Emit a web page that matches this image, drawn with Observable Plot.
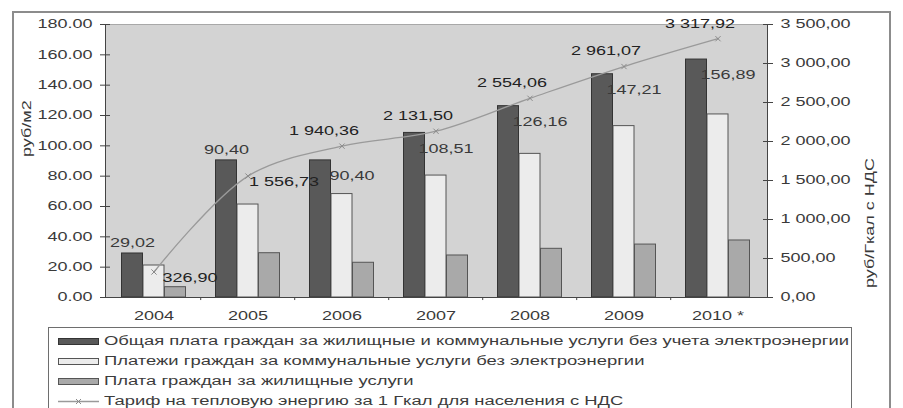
<!DOCTYPE html>
<html>
<head>
<meta charset="utf-8">
<script src="https://cdn.jsdelivr.net/npm/d3@7"></script>
<script src="https://cdn.jsdelivr.net/npm/@observablehq/plot@0.6"></script>
<style>
  html, body { margin: 0; padding: 0; background: #fff; }
  body { width: 903px; height: 408px; position: relative; overflow: hidden; font-family: "Liberation Sans", Arial, sans-serif; }
  #frame { position: absolute; left: 12px; top: 11px; width: 875px; height: 430px; border: 2px solid #8c8c8c; }
  #chart { position: absolute; left: 0; top: 0; }
  #legend { position: absolute; left: 48px; top: 327px; width: 802px; height: 90px; border: 1px solid #6e6e6e; background: #fff; }
  .row { position: absolute; left: 9px; height: 20px; display: flex; align-items: center; white-space: nowrap; }
  .sw { width: 39px; height: 5px; border: 1px solid #555; margin-right: 5px; flex: none; }
  .lbl { display: inline-block; font-size: 12.5px; color: #3c3c3c; transform-origin: left center; }
</style>
</head>
<body>
<div id="frame"></div>
<div id="chart"></div>
<div id="legend"></div>
<script>
// ---- data ----
const years = ["2004", "2005", "2006", "2007", "2008", "2009", "2010"];
const xLabels = ["2004", "2005", "2006", "2007", "2008", "2009", "2010 *"];
const totalPay = [29.02, 90.40, 90.40, 108.51, 126.16, 147.21, 156.89];
const utilityPay = [21.1, 61.3, 68.2, 80.4, 94.7, 113.0, 120.7];
const housingPay = [6.8, 29.2, 22.9, 27.7, 32.1, 34.9, 37.6];
const heatTariff = [326.90, 1556.73, 1940.36, 2131.50, 2554.06, 2961.07, 3317.92];
const leftTicks = [0, 20, 40, 60, 80, 100, 120, 140, 160, 180];
const rightTicks = [0, 500, 1000, 1500, 2000, 2500, 3000, 3500];
const seriesNames = [
  "Общая плата граждан за жилищные и коммунальные услуги без учета электроэнергии",
  "Платежи граждан за коммунальные услуги без электроэнергии",
  "Плата граждан за жилищные услуги",
  "Тариф на тепловую энергию за 1 Гкал для населения с НДС"
];
const leftLabel = "руб/м2";
const rightLabel = "руб/Гкал с НДС";

// ---- derived table ----
const leftMax = 180, rightMax = 3500;
const k = leftMax / rightMax;
const rows = years.map((y, i) => ({
  year: y, total: totalPay[i], utility: utilityPay[i], housing: housingPay[i], tariff: heatTariff[i]
}));
// where the tariff point sits below the top of the total bar, labels go the other way round
const lowLine = d => d.tariff * k < d.total;

const fmtLeft = d => d3.format(".2f")(d);
const fmtRu = d => d3.format(",.2f")(d).replace(/,/g, " ").replace(".", ",");
const fmtBar = d => d3.format(".2f")(d).replace(".", ",");

// ---- layout ----
const W = 903, H = 330, ML = 105, MR = 136, MT = 24, MB = 33;
const step = (W - ML - MR) / years.length;
const barW = 21.5;
const pad = 1 - barW / step;
const TXT = "#3a3a3a";

const chart = Plot.plot({
  width: W, height: H,
  marginLeft: ML, marginRight: MR, marginTop: MT, marginBottom: MB,
  style: { fontFamily: "'Liberation Sans', Arial, sans-serif", fontSize: "12px", color: TXT, background: "transparent", overflow: "visible" },
  x: { domain: years, paddingInner: pad, paddingOuter: pad / 2, label: null },
  y: { domain: [0, leftMax], label: null },
  marks: [
    Plot.frame({ fill: "#d3d3d3", stroke: "#a8a8a8" }),
    Plot.barY(rows, { x: "year", y: "total", dx: -barW, fill: "#595959", stroke: "#333", strokeWidth: 1 }),
    Plot.barY(rows, { x: "year", y: "utility", fill: "#ececec", stroke: "#555", strokeWidth: 1 }),
    Plot.barY(rows, { x: "year", y: "housing", dx: barW, fill: "#a9a9a9", stroke: "#555", strokeWidth: 1 }),
    Plot.line(rows, { x: "year", y: d => d.tariff * k, stroke: "#9a9a9a", strokeWidth: 1.3, curve: "catmull-rom" }),
    Plot.dot(rows, { x: "year", y: d => d.tariff * k, symbol: "times", r: 2.5, stroke: "#8a8a8a", strokeWidth: 1 }),
    // total-bar labels
    Plot.text(rows.filter(lowLine), { x: "year", y: "total", dx: -barW, dy: -10, text: d => fmtBar(d.total), fill: TXT, fontSize: 12 }),
    Plot.text(rows.filter(d => !lowLine(d)), { x: "year", y: "total", dx: 10, dy: 16, text: d => fmtBar(d.total), fill: TXT, fontSize: 12 }),
    // tariff labels
    Plot.text(rows.filter(lowLine), { x: "year", y: d => d.tariff * k, dx: 36, dy: 6, text: d => fmtRu(d.tariff), fill: "#222", fontSize: 12 }),
    Plot.text(rows.filter(d => !lowLine(d)), { x: "year", y: d => d.tariff * k, dx: -18, dy: -15, text: d => fmtRu(d.tariff), fill: "#222", fontSize: 12 }),
    Plot.frame({ anchor: "left", stroke: "#444" }),
    Plot.frame({ anchor: "right", stroke: "#444" }),
    Plot.frame({ anchor: "bottom", stroke: "#444" }),
    Plot.ruleX(years.slice(1), { x: d => d, dx: -step / 2, y1: -2, y2: 0, stroke: "#444" }),
    Plot.axisX({ tickSize: 0, tickPadding: 14, tickFormat: d => xLabels[years.indexOf(d)], fill: TXT }),
    Plot.axisY({ anchor: "left", ticks: leftTicks, tickSize: 10, dx: 5, tickPadding: 8, tickFormat: fmtLeft, stroke: "#444", fill: TXT, label: null }),
    Plot.axisY({ anchor: "right", ticks: rightTicks.map(v => v * k), tickSize: 10, dx: -5, tickPadding: 8,
      tickFormat: d => fmtRu(Math.round(d / k)), stroke: "#444", fill: TXT, label: null }),
    Plot.text([leftLabel], { frameAnchor: "left", text: d => d, rotate: -90, dx: -78, dy: -4, fill: TXT, fontSize: 12 }),
    Plot.text([rightLabel], { frameAnchor: "right", text: d => d, rotate: -90, dx: 103, dy: -3, fill: TXT, fontSize: 12 })
  ]
});
document.getElementById("chart").appendChild(chart);

// stretch SVG texts horizontally like the reference
const S = 1.5;
chart.querySelectorAll("text").forEach(t => {
  const L = t.getComputedTextLength();
  if (L > 0) { t.setAttribute("textLength", L * S); t.setAttribute("lengthAdjust", "spacingAndGlyphs"); }
});

// ---- legend ----
const legend = document.getElementById("legend");
const swatches = [
  { fill: "#595959", stroke: "#333" },
  { fill: "#ececec", stroke: "#555" },
  { fill: "#a9a9a9", stroke: "#555" },
  null
];
const labelEls = [];
seriesNames.forEach((name, i) => {
  const row = document.createElement("div");
  row.className = "row";
  row.style.top = (3 + i * 20) + "px";
  if (swatches[i]) {
    const sw = document.createElement("div");
    sw.className = "sw";
    sw.style.background = swatches[i].fill;
    sw.style.borderColor = swatches[i].stroke;
    row.appendChild(sw);
  } else {
    const ns = "http://www.w3.org/2000/svg";
    const svg = document.createElementNS(ns, "svg");
    svg.setAttribute("width", 41); svg.setAttribute("height", 9);
    svg.style.marginRight = "5px"; svg.style.flex = "none";
    const ln = document.createElementNS(ns, "line");
    ln.setAttribute("x1", 0); ln.setAttribute("x2", 41); ln.setAttribute("y1", 4.5); ln.setAttribute("y2", 4.5);
    ln.setAttribute("stroke", "#9a9a9a"); ln.setAttribute("stroke-width", 1.3);
    svg.appendChild(ln);
    const mk = document.createElementNS(ns, "path");
    mk.setAttribute("d", "M18,2L23,7M23,2L18,7");
    mk.setAttribute("stroke", "#8a8a8a");
    svg.appendChild(mk);
    row.appendChild(svg);
  }
  const lbl = document.createElement("span");
  lbl.className = "lbl";
  lbl.textContent = name;
  row.appendChild(lbl);
  legend.appendChild(row);
  labelEls.push(lbl);
});
const w0 = labelEls[0].getBoundingClientRect().width;
const sc = 745 / w0;
labelEls.forEach(el => { el.style.transform = `scaleX(${sc})`; });
</script>
</body>
</html>
